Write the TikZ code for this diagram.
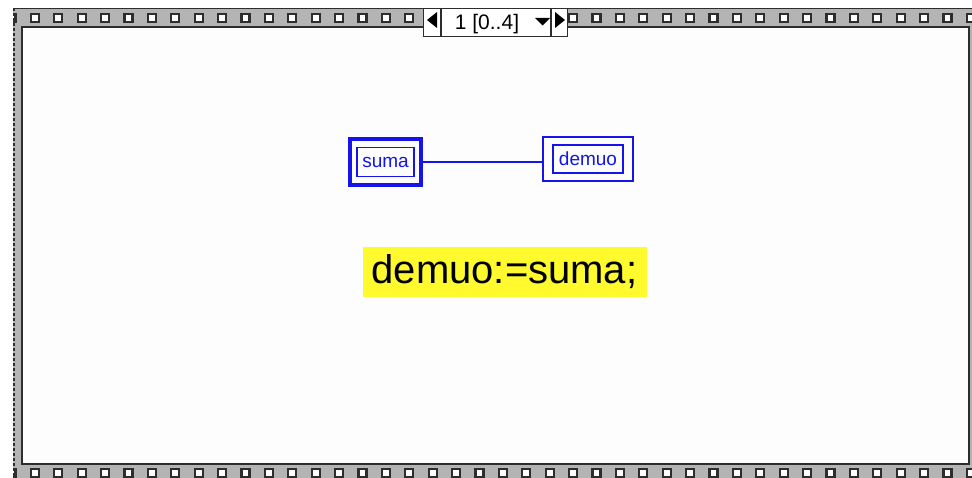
\documentclass[tikz,border=0pt]{standalone}
\usepackage{fontspec}
\setmainfont{Liberation Sans}
\usetikzlibrary{fit}
\definecolor{lvblue}{RGB}{20,20,235}
\definecolor{stripgray}{RGB}{180,180,180}
\definecolor{stripdark}{RGB}{45,45,45}
\definecolor{codeyellow}{RGB}{255,250,45}
\definecolor{panel}{RGB}{253,253,253}
\tikzset{
  hole/.style={draw=stripdark, fill=white, line width=2.2pt},
  frameline/.style={draw=stripdark, line width=1.5pt},
  innerbox/.style={draw=lvblue, text=lvblue, line width=1.5pt, inner sep=0pt, font=\fontsize{19}{19}\selectfont},
}
\begin{document}
\begin{tikzpicture}[x=1pt,y=-1pt]
\useasboundingbox (0,0) rectangle (972,478);
\fill[white] (0,0) rectangle (972,478);
% panel
\fill[panel] (22,27) rectangle (969,464);
% strips
\fill[stripgray] (13,8) rectangle (972,27);
\fill[stripgray] (13,464) rectangle (972,478);
\fill[stripgray] (13,27) rectangle (22,464);
\fill[stripgray] (969,27) rectangle (972,464);
\draw[frameline] (13,8.5) -- (972,8.5);
\draw[frameline] (22,27) -- (969,27) -- (969,464) -- (22,464) -- cycle;
% holes
\begin{scope}
  \clip (13,8) rectangle (972,478);
  \foreach \k in {-1,...,40} {
    \draw[hole] ({30.8+23.4*\k},13.8) rectangle ++(8,8);
    \draw[hole] ({30.8+23.4*\k},468.8) rectangle ++(8,8);
  }
\end{scope}
\draw[stripdark, line width=2pt, dash pattern=on 3pt off 2pt] (13.5,8) -- (13.5,478);
% counter
\node[draw=stripdark, fill=white, line width=1.2pt, minimum width=144, minimum height=28, inner sep=0pt, anchor=north west] (ctr) at (423,8) {};
\draw[stripdark, line width=1.2pt] (441,8) -- (441,36);
\draw[stripdark, line width=1.2pt] (551,8) -- (551,36);
\fill[black] (427,20) -- (437,12) -- (437,28) -- cycle;
\fill[black] (565,20) -- (555,12) -- (555,28) -- cycle;
\fill[black] (535,18) -- (550,18) -- (542.5,25.5) -- cycle;
\node[font=\fontsize{21}{21}\selectfont, inner sep=0pt] (ctrtext) at (487,24) {1 [0..4]};
% terminals
\node[innerbox, minimum width=57, minimum height=29] (sumain) at (385.5,162) {suma};
\node[fit=(sumain), inner xsep=6pt, inner ysep=8pt, draw=lvblue, line width=4pt] (suma) {};
\node[innerbox, minimum width=70, minimum height=28] (demuoin) at (588,159) {demuo};
\node[fit=(demuoin), inner xsep=9pt, inner ysep=7pt, draw=lvblue, line width=2pt] (demuo) {};
\draw[lvblue, line width=2pt] (suma.east) -- (suma.east -| demuo.west);
% code
\node[fill=codeyellow, minimum width=284, minimum height=50, inner sep=0pt, font=\fontsize{40}{40}\selectfont] (code) at (504.5,272) {demuo:=suma;};
\end{tikzpicture}
\end{document}
